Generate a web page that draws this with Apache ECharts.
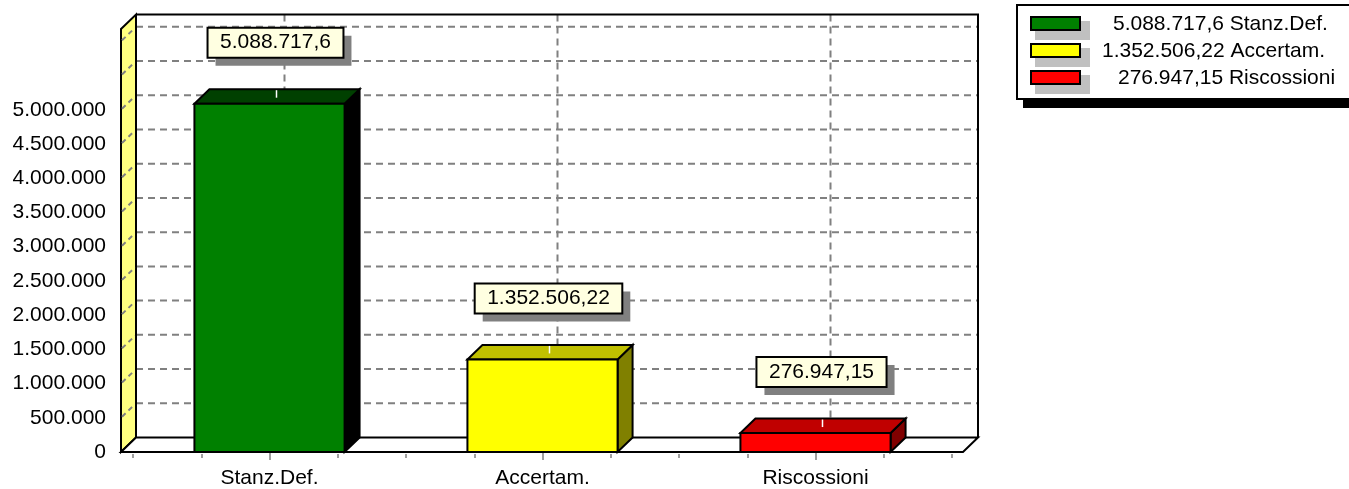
<!DOCTYPE html>
<html>
<head>
<meta charset="utf-8">
<script src="https://cdn.jsdelivr.net/npm/echarts@6/dist/echarts.min.js"></script>
<style>
  html, body { margin: 0; padding: 0; background: #ffffff; }
  #chart { width: 1349px; height: 489px; }
</style>
</head>
<body>
<div id="chart"></div>
<script>
// ---- data ----
const categories = ['Stanz.Def.', 'Accertam.', 'Riscossioni'];
const values = [5088717.6, 1352506.22, 276947.15];
const yTickValues = [0, 500000, 1000000, 1500000, 2000000, 2500000, 3000000,
                     3500000, 4000000, 4500000, 5000000, 5500000, 6000000];
const yAxisMax = 6180000;
const yLabelMax = 5000000;

// ---- styles ----
const palette = [
  { front: '#008000', top: '#004000', side: '#000000' },
  { front: '#FFFF00', top: '#C0C000', side: '#808000' },
  { front: '#FF0000', top: '#C00000', side: '#800000' }
];
const FONT_FAMILY = '"Liberation Sans", Arial, sans-serif';
const FONT = '21px ' + FONT_FAMILY;
const DX = 15, DY = 14.5;          // 3D depth offset
const PAD_L = 12, PAD_R = 11;      // floor extension beyond the category band
const BAR_RATIO = 0.55;
const GRID_DASH = { stroke: '#808080', lineWidth: 2, lineDash: [7, 5] };
const OUTLINE = { stroke: '#000000', lineWidth: 2, lineJoin: 'miter' };

// Italian number format: 5088717.6 -> "5.088.717,6"
function fmtIt(v) {
  const s = String(Math.abs(v));
  const parts = s.split('.');
  const intPart = parts[0].replace(/\B(?=(\d{3})+(?!\d))/g, '.');
  return (v < 0 ? '-' : '') + intPart + (parts[1] ? ',' + parts[1] : '');
}

const measureCtx = document.createElement('canvas').getContext('2d');
measureCtx.font = FONT;
function textWidth(t) { return measureCtx.measureText(t).width; }

// Walls, floor and dashed grid of the 3D box
function renderFrame(params, api) {
  const band = api.size([1, 0])[0];
  const c0 = api.coord([0, 0]);
  const gL = c0[0] - band / 2;
  const gR = gL + band * categories.length;
  const xL = gL - PAD_L, xR = gR + PAD_R;
  const y0 = c0[1];
  const yTop = api.coord([0, yAxisMax])[1];
  const ch = [];

  // horizontal grid on the back wall
  yTickValues.forEach(function (t) {
    if (t === 0) return;
    const y = api.coord([0, t])[1];
    ch.push({ type: 'line', shape: { x1: xL + DX, y1: y - DY, x2: xR + DX, y2: y - DY }, style: GRID_DASH });
  });
  // vertical grid at category centres
  categories.forEach(function (c, i) {
    const cx = api.coord([i, 0])[0];
    ch.push({ type: 'line', shape: { x1: cx + DX, y1: yTop - DY, x2: cx + DX, y2: y0 - DY }, style: GRID_DASH });
  });
  // back wall border
  ch.push({ type: 'polyline', shape: { points: [[xL + DX, yTop - DY], [xR + DX, yTop - DY], [xR + DX, y0 - DY]] },
            style: { stroke: '#000', lineWidth: 2, fill: null } });
  // left side wall with the slanted grid
  ch.push({ type: 'polygon', shape: { points: [[xL, yTop], [xL + DX, yTop - DY], [xL + DX, y0 - DY], [xL, y0]] },
            style: Object.assign({ fill: '#FFFF80' }, OUTLINE) });
  yTickValues.forEach(function (t) {
    if (t === 0) return;
    const y = api.coord([0, t])[1];
    ch.push({ type: 'line', shape: { x1: xL + 1, y1: y - 1, x2: xL + DX - 1, y2: y - DY + 1 },
              style: { stroke: '#808080', lineWidth: 2, lineDash: [5, 4] } });
  });
  // floor
  ch.push({ type: 'polygon', shape: { points: [[xL, y0], [xR, y0], [xR + DX, y0 - DY], [xL + DX, y0 - DY]] },
            style: Object.assign({ fill: '#ffffff' }, OUTLINE) });
  return { type: 'group', children: ch };
}

// 3D bar with its value box
function renderBar(params, api) {
  const i = api.value(0), v = api.value(1);
  const band = api.size([1, 0])[0];
  const w = band * BAR_RATIO;
  const base = api.coord([i, 0]);
  const top = api.coord([i, v]);
  const cx = base[0], x0 = cx - w / 2, x1 = cx + w / 2;
  const yb = base[1], yt = top[1];
  const col = palette[params.dataIndex];
  const ch = [];

  ch.push({ type: 'polygon', shape: { points: [[x1, yt], [x1 + DX, yt - DY], [x1 + DX, yb - DY], [x1, yb]] },
            style: Object.assign({ fill: col.side }, OUTLINE) });
  ch.push({ type: 'polygon', shape: { points: [[x0, yt], [x1, yt], [x1 + DX, yt - DY], [x0 + DX, yt - DY]] },
            style: Object.assign({ fill: col.top }, OUTLINE) });
  ch.push({ type: 'rect', shape: { x: x0, y: yt, width: w, height: yb - yt },
            style: Object.assign({ fill: col.front }, OUTLINE) });
  // leader stub on the top face
  ch.push({ type: 'line', shape: { x1: cx + 7, y1: yt - DY + 1, x2: cx + 7, y2: yt - 6 },
            style: { stroke: '#ffffff', lineWidth: 1.5 } });

  // value box
  const txt = fmtIt(v);
  const bw = textWidth(txt) + 25, bh = 30;
  const bcx = cx + 6, bcy = yt - 61;
  const bx = bcx - bw / 2, by = bcy - bh / 2;
  ch.push({ type: 'rect', shape: { x: bx + 8, y: by + 8, width: bw, height: bh }, style: { fill: '#808080' } });
  ch.push({ type: 'rect', shape: { x: bx, y: by, width: bw, height: bh },
            style: { fill: '#FFFFE1', stroke: '#000', lineWidth: 2 } });
  ch.push({ type: 'text', style: { text: txt, x: bcx, y: bcy, font: FONT, fill: '#000',
            align: 'center', verticalAlign: 'middle', textAlign: 'center', textVerticalAlign: 'middle' } });
  return { type: 'group', children: ch };
}

// Legend built from the same arrays
const legendX = [1113, 1102, 1118];
const legendEls = [
  { type: 'rect', shape: { x: 1023, y: 100, width: 340, height: 8 }, style: { fill: '#000' } },
  { type: 'rect', shape: { x: 1017, y: 5, width: 340, height: 94 }, style: { fill: '#fff', stroke: '#000', lineWidth: 2 } }
];
categories.forEach(function (c, i) {
  const ry = 17 + 27 * i;
  legendEls.push({ type: 'rect', shape: { x: 1035, y: ry + 4, width: 55, height: 19 }, style: { fill: '#C0C0C0' } });
  legendEls.push({ type: 'rect', shape: { x: 1031, y: ry, width: 49, height: 13 },
                   style: { fill: palette[i].front, stroke: '#000', lineWidth: 2 } });
  legendEls.push({ type: 'text', x: legendX[i], y: ry + 7,
                   style: { text: fmtIt(values[i]) + ' ' + c, font: FONT, fill: '#000',
                            align: 'left', verticalAlign: 'middle', textAlign: 'left', textVerticalAlign: 'middle' } });
});

const chart = echarts.init(document.getElementById('chart'), null, { renderer: 'canvas' });
chart.setOption({
  animation: false,
  backgroundColor: '#ffffff',
  grid: { left: 133, right: 397, top: 29, bottom: 37, containLabel: false },
  xAxis: [
    {
      type: 'category', data: categories, position: 'bottom', offset: 2,
      axisLine: { show: false },
      axisTick: { show: true, alignWithLabel: true, length: 8, lineStyle: { color: '#808080', width: 1.5 } },
      axisLabel: { margin: 14, fontSize: 21, fontFamily: FONT_FAMILY, color: '#000' },
      splitLine: { show: false }
    },
    {
      type: 'value', min: 0, max: categories.length, interval: 0.25, position: 'bottom', offset: 2,
      axisLine: { show: false },
      axisTick: { show: true, length: 4, lineStyle: { color: '#808080', width: 1.5 } },
      axisLabel: { show: false },
      splitLine: { show: false }
    }
  ],
  yAxis: {
    type: 'value', min: 0, max: yAxisMax, interval: 500000, offset: 12,
    axisLine: { show: false },
    axisTick: { show: true, length: 9, lineStyle: { color: '#666', width: 1.5 } },
    minorTick: { show: true, splitNumber: 4, length: 5, lineStyle: { color: '#666', width: 1.5 } },
    splitLine: { show: false },
    axisLabel: {
      margin: 15, fontSize: 21, fontFamily: FONT_FAMILY, color: '#000', showMaxLabel: false,
      formatter: function (v) { return v <= yLabelMax ? fmtIt(v) : ''; }
    }
  },
  graphic: legendEls,
  series: [
    { type: 'custom', name: 'frame', clip: false, z: 1, silent: true,
      data: [[0, 0]], renderItem: renderFrame },
    { type: 'custom', name: 'bars', clip: false, z: 2,
      data: categories.map(function (c, i) { return [i, values[i]]; }), renderItem: renderBar }
  ]
});
</script>
</body>
</html>
